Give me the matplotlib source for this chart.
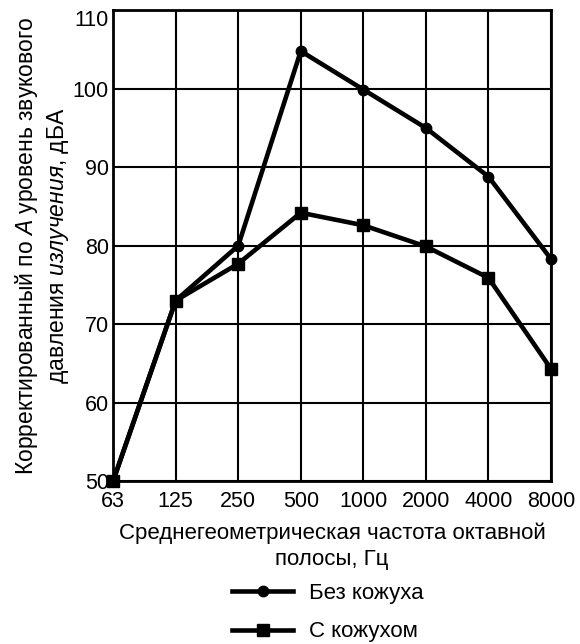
import matplotlib.pyplot as plt

plt.rcParams['font.family'] = ['Liberation Sans', 'DejaVu Sans']
plt.rcParams['mathtext.fontset'] = 'custom'
plt.rcParams['mathtext.it'] = 'Liberation Sans:italic'
plt.rcParams['mathtext.rm'] = 'Liberation Sans'

# octave band centre frequencies, Hz
freqs = ['63', '125', '250', '500', '1000', '2000', '4000', '8000']
# A-weighted sound pressure level, dBA
no_cover = [50, 73, 80, 104.8, 99.9, 95, 88.8, 78.3]
with_cover = [50, 73, 77.7, 84.2, 82.6, 79.9, 75.9, 64.3]

fig = plt.figure(figsize=(5.8, 6.44), dpi=100)
ax = fig.add_axes([0.195, 0.253, 0.755, 0.731])

x = range(len(freqs))
ax.plot(x, no_cover, color='black', lw=3.3, marker='o', ms=7.5, label='Без кожуха', zorder=3)
ax.plot(x, with_cover, color='black', lw=3.3, marker='s', ms=8.5, label='С кожухом', zorder=3)

ax.set_xlim(0, len(freqs) - 1)
ax.set_ylim(50, 110)
ax.set_xticks(list(x))
ax.set_xticklabels(freqs)
ax.set_yticks(range(50, 111, 10))
ax.tick_params(length=0, labelsize=15.5)
ax.tick_params(axis='x', pad=7)
ax.tick_params(axis='y', pad=3)
ax.grid(True, color='black', lw=1.5)
for s in ax.spines.values():
    s.set_linewidth(2)
for ln in ax.lines:
    ln.set_clip_on(False)
# top label sits inside the frame in the original
ax.get_yticklabels()[-1].set_verticalalignment('top')

ax.set_xlabel('Среднегеометрическая частота октавной\nполосы, Гц', fontsize=16, labelpad=8,
              linespacing=1.3)
ax.set_ylabel('Корректированный по $\\mathit{A}$ уровень звукового\nдавления $\\mathit{излучения}$, дБА',
              fontsize=16.5, labelpad=1, linespacing=1.3)

fig.legend(loc='upper left', bbox_to_anchor=(232 / 580, 1 - 583 / 644), frameon=False,
           fontsize=16, handlelength=2.75, handletextpad=0.7, labelspacing=0.78,
           borderpad=0, borderaxespad=0)

fig.savefig('out.png', dpi=100)
